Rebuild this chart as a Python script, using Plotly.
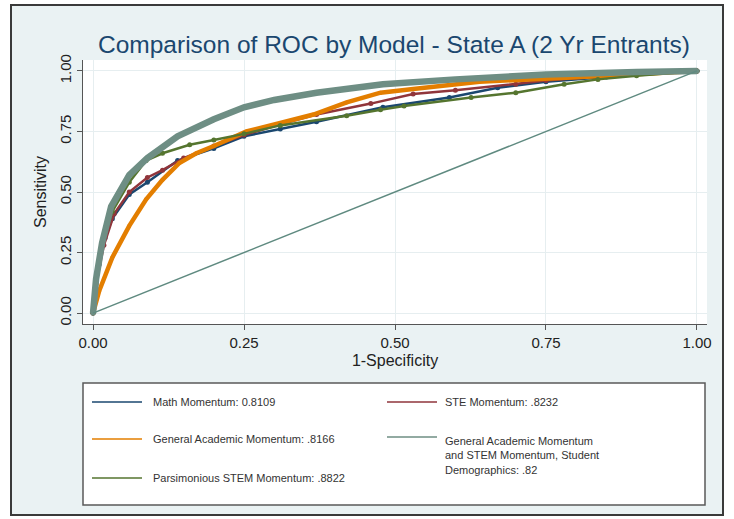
import plotly.graph_objects as go

W, H = 734, 519

# ---- data ----
fpr_math = [0, 0.005, 0.01, 0.02, 0.032, 0.06, 0.09, 0.14, 0.2, 0.25, 0.31, 0.37, 0.48, 0.59, 0.67, 0.75, 0.85, 1.0]
tpr_math = [0, 0.10, 0.20, 0.31, 0.39, 0.49, 0.54, 0.63, 0.68, 0.73, 0.76, 0.79, 0.85, 0.89, 0.93, 0.955, 0.975, 1.0]

fpr_ste = [0, 0.005, 0.018, 0.035, 0.06, 0.09, 0.115, 0.15, 0.2, 0.25, 0.31, 0.37, 0.46, 0.53, 0.6, 0.7, 0.75, 0.85, 1.0]
tpr_ste = [0, 0.12, 0.28, 0.41, 0.50, 0.56, 0.59, 0.64, 0.69, 0.735, 0.78, 0.82, 0.865, 0.905, 0.92, 0.945, 0.96, 0.98, 1.0]

fpr_gam = [0, 0.01, 0.032, 0.06, 0.088, 0.115, 0.143, 0.171, 0.2, 0.254, 0.31, 0.365, 0.42, 0.476, 0.53, 0.64, 0.81, 1.0]
tpr_gam = [0, 0.09, 0.23, 0.36, 0.47, 0.55, 0.62, 0.66, 0.69, 0.75, 0.785, 0.82, 0.87, 0.91, 0.925, 0.955, 0.975, 1.0]

fpr_pars = [0, 0.005, 0.015, 0.032, 0.06, 0.088, 0.115, 0.16, 0.2, 0.25, 0.31, 0.42, 0.476, 0.515, 0.626, 0.7, 0.78, 0.836, 0.9, 1.0]
tpr_pars = [0, 0.14, 0.28, 0.42, 0.54, 0.63, 0.66, 0.695, 0.715, 0.74, 0.775, 0.815, 0.84, 0.855, 0.89, 0.91, 0.945, 0.965, 0.98, 1.0]

fpr_full = [0, 0.005, 0.015, 0.03, 0.06, 0.09, 0.14, 0.2, 0.25, 0.3, 0.37, 0.48, 0.6, 0.75, 0.9, 1.0]
tpr_full = [0, 0.14, 0.29, 0.44, 0.57, 0.64, 0.73, 0.80, 0.85, 0.88, 0.91, 0.945, 0.965, 0.985, 0.995, 1.0]

ref_x = [0, 1]
ref_y = [0, 1]

series_names = [
    "Math Momentum: 0.8109",
    "STE Momentum: .8232",
    "General Academic Momentum: .8166",
    "General Academic Momentum<br>and STEM Momentum, Student<br>Demographics: .82",
    "Parsimonious STEM Momentum: .8822",
]
series_colors = ["#1a476f", "#90353b", "#e37e00", "#6e8e84", "#55752f"]

x_ticks = [0, 0.25, 0.5, 0.75, 1.0]
x_ticktext = ["0.00", "0.25", "0.50", "0.75", "1.00"]
y_ticks = [0, 0.25, 0.5, 0.75, 1.0]
y_ticktext = ["0.00", "0.25", "0.50", "0.75", "1.00"]

title_text = "Comparison of ROC by Model - State A (2 Yr Entrants)"

# ---- geometry helpers (pixel -> paper) ----
def px(x):
    return x / W

def py(y):
    return 1 - y / H

PL, PR, PT, PB = 83, 707, 60, 324

FONT = "Liberation Sans, Arial, sans-serif"

fig = go.Figure()

# series: (x, y, color index, line width, marker size)
curves = [
    (fpr_math, tpr_math, 0, 2.5, 5),
    (fpr_ste, tpr_ste, 1, 2.5, 5),
    (fpr_gam, tpr_gam, 2, 4.5, 4),
    (fpr_pars, tpr_pars, 4, 2.5, 5),
    (fpr_full, tpr_full, 3, 6.5, 5),
]
for xs, ys, ci, lw, ms in curves:
    fig.add_trace(go.Scatter(
        x=xs, y=ys, mode="lines+markers",
        name=series_names[ci].replace("<br>", " "),
        line=dict(color=series_colors[ci], width=lw),
        marker=dict(color=series_colors[ci], size=ms),
        showlegend=False,
    ))

fig.add_trace(go.Scatter(
    x=ref_x, y=ref_y, mode="lines",
    line=dict(color="#5f8a80", width=1.5),
    showlegend=False, name="Reference",
))

shapes = [
    # outer framed background
    dict(type="rect", xref="paper", yref="paper", x0=px(11), x1=px(723), y0=py(515), y1=py(5),
         fillcolor="#eaf2f3", line=dict(color="#3a3a3a", width=2), layer="below"),
    # plot region
    dict(type="rect", xref="paper", yref="paper", x0=px(PL), x1=px(PR), y0=py(PB), y1=py(PT),
         fillcolor="white", line=dict(width=0), layer="below"),
    # legend box
    dict(type="rect", xref="paper", yref="paper", x0=px(83), x1=px(705), y0=py(505), y1=py(383),
         fillcolor="white", line=dict(color="#5a5a5a", width=1.5), layer="below"),
]

annotations = []
# legend entries (col, row) in order of series_names
legend_pos = [(0, 0), (1, 0), (0, 1), (1, 1), (0, 2)]
col_line_x = [(92, 142), (387, 437)]
col_text_x = [151, 443]
row_y = [402, 439, 478]
for i, (c, r) in enumerate(legend_pos):
    ly = row_y[r]
    if "<br>" in series_names[i]:
        ly = row_y[r] - 2
    shapes.append(dict(type="line", xref="paper", yref="paper",
                       x0=px(col_line_x[c][0]), x1=px(col_line_x[c][1]), y0=py(ly), y1=py(ly),
                       line=dict(color=series_colors[i], width=2), opacity=0.75))
    if "<br>" in series_names[i]:
        annotations.append(dict(xref="paper", yref="paper", x=px(col_text_x[c]), y=py(row_y[r] - 6),
                                xanchor="left", yanchor="top", align="left", showarrow=False,
                                text=series_names[i], font=dict(family=FONT, size=11, color="#333333")))
    else:
        annotations.append(dict(xref="paper", yref="paper", x=px(col_text_x[c]), y=py(row_y[r]),
                                xanchor="left", yanchor="middle", align="left", showarrow=False,
                                text=series_names[i], font=dict(family=FONT, size=11, color="#333333")))

annotations.append(dict(xref="paper", yref="paper", x=px(394), y=py(44), xanchor="center", yanchor="middle",
                        showarrow=False, text=title_text,
                        font=dict(family=FONT, size=24.5, color="#1a476f")))

fig.update_layout(
    width=W, height=H,
    margin=dict(l=0, r=0, t=0, b=0, autoexpand=False),
    paper_bgcolor="white",
    plot_bgcolor="white",
    shapes=shapes,
    annotations=annotations,
    showlegend=False,
    xaxis=dict(
        domain=[px(PL), px(PR)],
        range=[-0.0166, 1.0166],
        tickvals=x_ticks, ticktext=x_ticktext,
        ticks="outside", ticklen=5, tickcolor="#555555", tickwidth=1,
        showline=True, linecolor="#555555", linewidth=1,
        showgrid=True, gridcolor="#e6eef0", gridwidth=1, zeroline=False,
        tickfont=dict(family=FONT, size=15, color="#222222"),
        title=dict(text="1-Specificity", font=dict(family=FONT, size=16, color="#222222"), standoff=4),
        automargin=False,
        fixedrange=True,
    ),
    yaxis=dict(
        domain=[py(PB), py(PT)],
        range=[-0.045, 1.045],
        tickvals=y_ticks, ticktext=y_ticktext,
        tickangle=-90,
        ticks="outside", ticklen=5, tickcolor="#555555", tickwidth=1,
        showline=True, linecolor="#555555", linewidth=1,
        showgrid=True, gridcolor="#e6eef0", gridwidth=1, zeroline=False,
        tickfont=dict(family=FONT, size=15, color="#222222"),
        title=dict(text="Sensitivity", font=dict(family=FONT, size=16, color="#222222"), standoff=6),
        automargin=False,
        fixedrange=True,
    ),
)

fig.write_html("out.html", config={"displayModeBar": False},
               post_script="document.body.style.margin='0';")
